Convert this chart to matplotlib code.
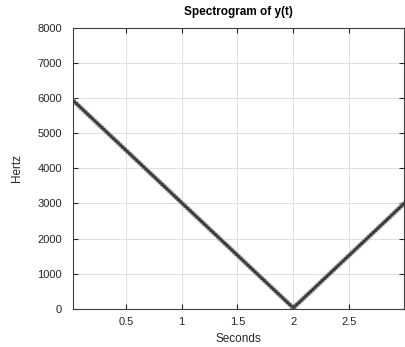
import numpy as np
import matplotlib.pyplot as plt
from matplotlib import mlab
from matplotlib.colors import LinearSegmentedColormap

plt.rcParams['font.family'] = ['Liberation Sans', 'DejaVu Sans']

# signal parameters (linear chirp, folds at 0 Hz at t = 2 s)
fs = 16000
duration = 3.0
f_start = 6000       # Hz at t = 0
sweep_rate = -3000   # Hz per second

t = np.arange(0, duration, 1 / fs)
y = np.cos(2 * np.pi * (f_start * t + 0.5 * sweep_rate * t ** 2))

nfft = 256
Pxx, freqs, bins = mlab.specgram(y, NFFT=nfft, Fs=fs, noverlap=192,
                                 window=np.hanning(nfft))
Pdb = 10 * np.log10(Pxx + 1e-20)

xticks = [0.5, 1, 1.5, 2, 2.5]
xticklabels = ['0.5', '1', '1.5', '2', '2.5']
yticks = [0, 1000, 2000, 3000, 4000, 5000, 6000, 7000, 8000]

# white (transparent) -> dark gray, so the grid shows through
cmap = LinearSegmentedColormap.from_list(
    'spec', [(1, 1, 1, 0), (0.75, 0.75, 0.75, 0.85), (0.2, 0.2, 0.2, 1)])

fig = plt.figure(figsize=(4.06, 3.47), dpi=100)
ax = fig.add_axes([0.1798, 0.1095, 0.8165, 0.811])

ax.imshow(Pdb, origin='lower', aspect='auto', cmap=cmap,
          extent=[bins[0], bins[-1], 0, fs / 2],
          vmin=Pdb.max() - 26, vmax=Pdb.max() - 6, interpolation='bilinear',
          zorder=1)

ax.set_xlim(0.024, 3.0)
ax.set_ylim(0, 8000)
ax.set_xticks(xticks)
ax.set_xticklabels(xticklabels)
ax.set_yticks(yticks)

ax.set_axisbelow(True)
ax.grid(True, color='#e0e0e0', linewidth=0.7)
ax.tick_params(direction='in', length=3.5, width=0.8, colors='#262626',
               labelsize=8, top=True, right=True)
ax.tick_params(axis='y', pad=8)
ax.tick_params(axis='x', pad=6)
for s in ax.spines.values():
    s.set_color('#404040')
    s.set_linewidth(0.8)
    s.set_zorder(3)

ax.set_title('Spectrogram of y(t)', fontsize=8.5, fontweight='bold', pad=9)
ax.set_xlabel('Seconds', fontsize=8.5, color='#262626', labelpad=4)
ax.set_ylabel('Hertz', fontsize=8.5, color='#262626', labelpad=10)

fig.savefig('out.png', dpi=100)
